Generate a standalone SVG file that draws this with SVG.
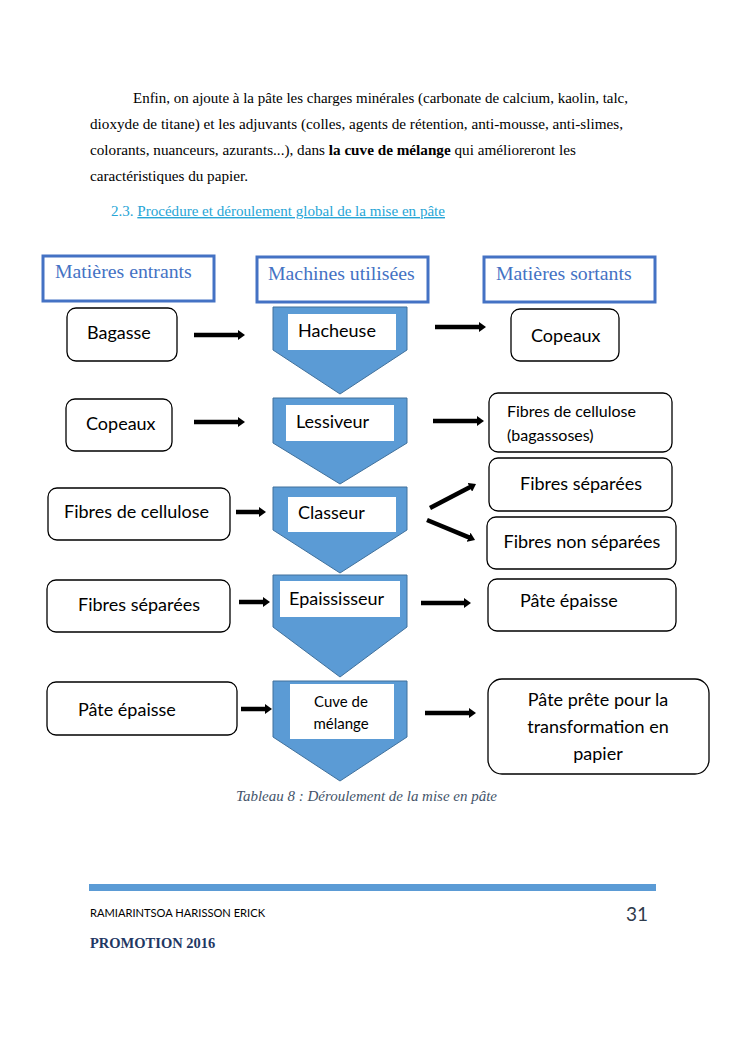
<svg xmlns="http://www.w3.org/2000/svg" width="745" height="1053" viewBox="0 0 745 1053">
<style>
.para{font-family:"Liberation Serif","Times New Roman",serif;font-size:14px;fill:#000}
.hdr{font-family:"Liberation Serif","Times New Roman",serif;font-size:19.8px;fill:#4472c4}
.hbox{fill:#fff;stroke:#4472c4;stroke-width:3}
.box{fill:#fff;stroke:#000;stroke-width:1.3}
.chev{fill:#5b9bd5;stroke:#41719c;stroke-width:1}
.wb{fill:#fff}
.lbl{font-family:"Lato","Liberation Sans",sans-serif;font-size:18px;fill:#000}
.sm{font-family:"Lato","Liberation Sans",sans-serif;font-size:16px;fill:#000}
.xs{font-family:"Lato","Liberation Sans",sans-serif;font-size:15px;fill:#000}
.arr{stroke:#000;stroke-width:4.5;fill:none;marker-end:url(#ah)}
</style>
<defs>
<marker id="ah" viewBox="0 0 7 10" markerWidth="7" markerHeight="10" refX="1" refY="5" orient="auto" markerUnits="userSpaceOnUse">
<path d="M0,0 L7,5 L0,10 z" fill="#000"/>
</marker>
</defs>
<rect width="745" height="1053" fill="#fff"/>

<g id="paragraph">
<text class="para" x="133" y="103" textLength="495" lengthAdjust="spacingAndGlyphs">Enfin, on ajoute à la pâte les charges minérales (carbonate de calcium, kaolin, talc,</text>
<text class="para" x="90" y="129" textLength="533" lengthAdjust="spacingAndGlyphs">dioxyde de titane) et les adjuvants (colles, agents de rétention, anti-mousse, anti-slimes,</text>
<text class="para" x="90" y="155" textLength="486" lengthAdjust="spacingAndGlyphs">colorants, nuanceurs, azurants...), dans <tspan font-weight="bold">la cuve de mélange</tspan> qui amélioreront les</text>
<text class="para" x="90" y="181" textLength="158" lengthAdjust="spacingAndGlyphs">caractéristiques du papier.</text>
<text class="para" x="111" y="216" textLength="334" lengthAdjust="spacingAndGlyphs" style="fill:#27a5d6">2.3. <tspan text-decoration="underline">Procédure et déroulement global de la mise en pâte</tspan></text>
</g>

<g id="header-entrants">
<rect class="hbox" x="43" y="256" width="171" height="45"/>
<text class="hdr" x="55" y="278">Matières entrants</text>
</g>
<g id="header-machines">
<rect class="hbox" x="257" y="257" width="171" height="45"/>
<text class="hdr" x="268" y="280">Machines utilisées</text>
</g>
<g id="header-sortants">
<rect class="hbox" x="484" y="257" width="171" height="45"/>
<text class="hdr" x="496" y="280">Matières sortants</text>
</g>

<g id="in-bagasse">
<rect class="box" x="67" y="308" width="110" height="53" rx="9"/>
<text class="lbl" x="87" y="339">Bagasse</text>
</g>
<g id="in-copeaux">
<rect class="box" x="66" y="399" width="106" height="52" rx="9"/>
<text class="lbl" x="86" y="430">Copeaux</text>
</g>
<g id="in-fibres-cellulose">
<rect class="box" x="48" y="488" width="182" height="52" rx="9"/>
<text class="lbl" x="64" y="518">Fibres de cellulose</text>
</g>
<g id="in-fibres-separees">
<rect class="box" x="47" y="580" width="183" height="52" rx="9"/>
<text class="lbl" x="78" y="611">Fibres séparées</text>
</g>
<g id="in-pate-epaisse">
<rect class="box" x="47" y="682" width="190" height="53" rx="9"/>
<text class="lbl" x="78" y="716">Pâte épaisse</text>
</g>

<g id="m-hacheuse">
<polygon class="chev" points="273,307 407,307 407,350 340,394 273,350"/>
<rect class="wb" x="288" y="314" width="108" height="36"/>
<text class="lbl" x="298" y="337">Hacheuse</text>
</g>
<g id="m-lessiveur">
<polygon class="chev" points="273,398 407,398 407,443 340,484 273,443"/>
<rect class="wb" x="286" y="405" width="108" height="36"/>
<text class="lbl" x="296" y="428">Lessiveur</text>
</g>
<g id="m-classeur">
<polygon class="chev" points="273,487 407,487 407,530 340,573 273,530"/>
<rect class="wb" x="288" y="497" width="108" height="35"/>
<text class="lbl" x="298" y="519">Classeur</text>
</g>
<g id="m-epaississeur">
<polygon class="chev" points="273,575 407,575 407,627 340,677 273,627"/>
<rect class="wb" x="280" y="581" width="120" height="36"/>
<text class="lbl" x="289" y="605">Epaississeur</text>
</g>
<g id="m-cuve">
<polygon class="chev" points="273,681 407,681 407,737 340,781 273,737"/>
<rect class="wb" x="290" y="684" width="104" height="55"/>
<text class="xs" x="341" y="707" text-anchor="middle">Cuve de</text>
<text class="xs" x="341" y="729" text-anchor="middle">mélange</text>
</g>

<g id="out-copeaux">
<rect class="box" x="511" y="309" width="108" height="52" rx="9"/>
<text class="lbl" x="531" y="342">Copeaux</text>
</g>
<g id="out-fibres-cellulose">
<rect class="box" x="489" y="393" width="183" height="59" rx="9"/>
<text class="sm" x="507" y="417">Fibres de cellulose</text>
<text class="sm" x="507" y="441">(bagassoses)</text>
</g>
<g id="out-fibres-separees">
<rect class="box" x="489" y="458" width="183" height="53" rx="9"/>
<text class="lbl" x="581" y="490" text-anchor="middle">Fibres séparées</text>
</g>
<g id="out-fibres-non-separees">
<rect class="box" x="487" y="517" width="189" height="52" rx="9"/>
<text class="lbl" x="582" y="548" text-anchor="middle">Fibres non séparées</text>
</g>
<g id="out-pate-epaisse">
<rect class="box" x="488" y="579" width="188" height="52" rx="9"/>
<text class="lbl" x="520" y="607">Pâte épaisse</text>
</g>
<g id="out-pate-prete">
<rect class="box" x="488" y="679" width="221" height="95" rx="14"/>
<text class="lbl" x="598" y="706" text-anchor="middle">Pâte prête pour la</text>
<text class="lbl" x="598" y="733" text-anchor="middle">transformation en</text>
<text class="lbl" x="598" y="760" text-anchor="middle">papier</text>
</g>

<g id="connectors">
<line class="arr" x1="194" y1="335" x2="239" y2="335"/>
<line class="arr" x1="435" y1="327" x2="480" y2="327"/>
<line class="arr" x1="194" y1="422" x2="239" y2="422"/>
<line class="arr" x1="433" y1="421" x2="478" y2="421"/>
<line class="arr" x1="236" y1="512" x2="260" y2="512"/>
<line class="arr" x1="430" y1="508" x2="470.7" y2="486.8"/>
<line class="arr" x1="427" y1="520" x2="469.5" y2="537.7"/>
<line class="arr" x1="239" y1="602" x2="264" y2="602"/>
<line class="arr" x1="421" y1="603" x2="465" y2="603"/>
<line class="arr" x1="241" y1="709" x2="266" y2="709"/>
<line class="arr" x1="425" y1="713" x2="470" y2="713"/>
</g>

<g id="caption">
<text x="236" y="801" textLength="261" lengthAdjust="spacingAndGlyphs" style="font-family:'Liberation Serif','Times New Roman',serif;font-style:italic;font-size:14.5px;fill:#44546a">Tableau 8 : Déroulement de la mise en pâte</text>
</g>

<g id="footer">
<rect x="89" y="884" width="567" height="7" fill="#5b9bd5"/>
<text x="90" y="917" textLength="175" lengthAdjust="spacingAndGlyphs" style="font-family:'Lato','Liberation Sans',sans-serif;font-size:10.5px;fill:#000">RAMIARINTSOA HARISSON ERICK</text>
<text x="648" y="921" text-anchor="end" style="font-family:'Lato','Liberation Sans',sans-serif;font-size:19px;fill:#2f3b4c">31</text>
<text x="90" y="948" style="font-family:'Liberation Serif','Times New Roman',serif;font-weight:bold;font-size:14.5px;fill:#1f3864">PROMOTION 2016</text>
</g>
</svg>
